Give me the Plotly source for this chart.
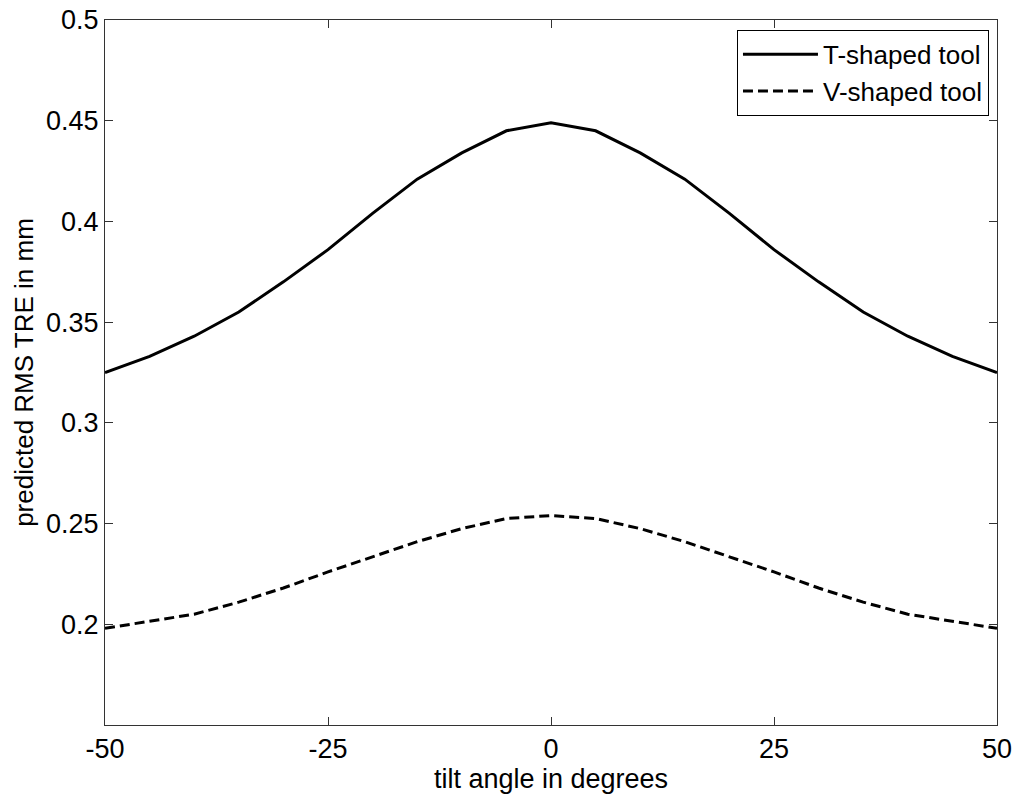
import plotly.graph_objects as go

tilt = [-50, -45, -40, -35, -30, -25, -20, -15, -10, -5, 0, 5, 10, 15, 20, 25, 30, 35, 40, 45, 50]
t_shaped = [0.325, 0.333, 0.343, 0.355, 0.370, 0.386, 0.404, 0.421, 0.434, 0.445, 0.449,
            0.445, 0.434, 0.421, 0.404, 0.386, 0.370, 0.355, 0.343, 0.333, 0.325]
v_shaped = [0.198, 0.2015, 0.205, 0.211, 0.218, 0.226, 0.2335, 0.241, 0.2475, 0.2525, 0.254,
            0.2525, 0.2475, 0.241, 0.2335, 0.226, 0.218, 0.211, 0.205, 0.2015, 0.198]
x_ticks = [-50, -25, 0, 25, 50]
x_labels = ["-50", "-25", "0", "25", "50"]
y_ticks = [0.2, 0.25, 0.3, 0.35, 0.4, 0.45, 0.5]
y_labels = ["0.2", "0.25", "0.3", "0.35", "0.4", "0.45", "0.5"]

FONT = "Liberation Sans, Arial, sans-serif"

fig = go.Figure()
fig.add_trace(go.Scatter(x=tilt, y=t_shaped, mode="lines", name="T-shaped tool",
                         line=dict(color="black", width=3)))
fig.add_trace(go.Scatter(x=tilt, y=v_shaped, mode="lines", name="V-shaped tool",
                         line=dict(color="black", width=3, dash="10px,5px")))

axis_common = dict(showgrid=False, zeroline=False, showline=True, linecolor="#333333",
                   linewidth=1, mirror="ticks", ticks="inside", ticklen=8,
                   tickcolor="#333333", tickfont=dict(family=FONT, size=27, color="black"),
                   automargin=False, ticklabeloverflow="allow")

fig.update_layout(
    width=1016, height=794,
    margin=dict(l=105, r=19, t=20, b=69, autoexpand=False),
    paper_bgcolor="white", plot_bgcolor="white",
    font=dict(family=FONT, size=27, color="black"),
    xaxis=dict(range=[-50, 50], tickvals=x_ticks, ticktext=x_labels,
               title=dict(text="tilt angle in degrees", font=dict(family=FONT, size=27), standoff=0),
               **axis_common),
    yaxis=dict(range=[0.15, 0.5], tickvals=y_ticks, ticktext=y_labels,
               title=dict(text="predicted RMS TRE in mm", font=dict(family=FONT, size=26), standoff=4),
               **axis_common),
    legend=dict(x=0.991, y=0.986, xanchor="right", yanchor="top",
                bordercolor="black", borderwidth=1, bgcolor="white",
                font=dict(family=FONT, size=26), tracegroupgap=0, itemwidth=75),
    showlegend=True,
)

fig.write_html("out.html", config={"displayModeBar": False},
               post_script="document.body.style.margin='0';")
